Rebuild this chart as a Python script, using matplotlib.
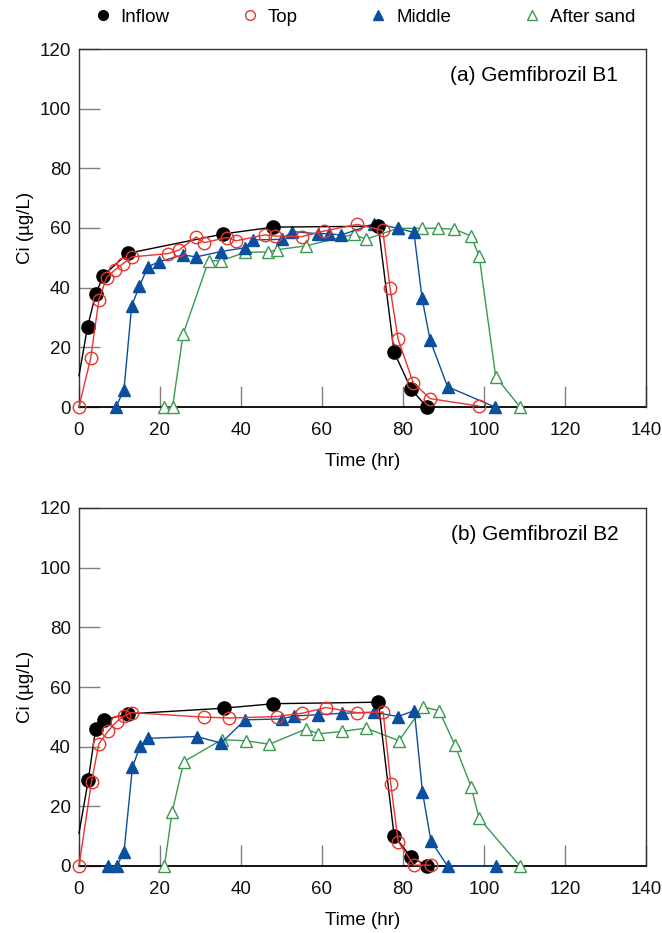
import matplotlib
matplotlib.use("Agg")
import matplotlib.pyplot as plt
from matplotlib.lines import Line2D

plt.rcParams['font.family'] = ['Liberation Sans', 'DejaVu Sans']

# ---- Panel (a) Gemfibrozil B1 ----
a_inflow_t = [0, 2.1, 4.1, 6.0, 12.0, 35.6, 48.0, 73.9, 77.8, 82.0, 85.9]
a_inflow_c = [10.5, 26.8, 37.8, 44.0, 51.5, 58.0, 60.3, 60.6, 18.4, 6.0, 0.0]

a_top_t = [0, 2.9, 4.9, 6.8, 8.9, 10.9, 13.0, 21.9, 24.7, 28.9, 30.9, 36.5, 38.8,
           45.9, 48.4, 55.0, 60.6, 68.7, 75.0, 76.8, 78.8, 82.5, 86.7, 98.8]
a_top_c = [0, 16.5, 35.8, 43.4, 46.0, 48.1, 50.3, 51.4, 52.6, 57.0, 55.1, 56.8, 55.7,
           57.7, 57.3, 57.1, 59.0, 61.2, 59.2, 40.0, 22.7, 8.2, 2.8, 0.3]

a_mid_t = [9.1, 11.1, 13.0, 14.9, 17.0, 19.8, 25.7, 28.9, 35.0, 41.0, 42.9, 50.0,
           52.7, 58.9, 61.8, 64.7, 72.9, 78.8, 82.7, 84.7, 86.7, 91.0, 102.7]
a_mid_c = [0, 5.7, 33.9, 40.4, 47.0, 48.7, 51.0, 50.3, 52.1, 53.4, 56.0, 56.2,
           58.8, 58.1, 58.1, 57.6, 61.5, 59.9, 58.5, 36.5, 22.4, 6.8, 0]

a_sand_t = [21.0, 23.1, 25.7, 32.0, 35.0, 41.0, 46.7, 48.8, 56.0, 67.9, 70.8,
            78.7, 84.8, 88.7, 92.7, 96.7, 98.8, 102.9, 108.9]
a_sand_c = [0, 0, 24.4, 49.0, 49.0, 51.8, 52.0, 52.7, 54.0, 57.9, 56.2,
            59.9, 59.9, 59.9, 59.6, 57.4, 50.7, 10.1, 0]

# ---- Panel (b) Gemfibrozil B2 ----
b_inflow_t = [0, 2.3, 4.1, 6.2, 12.2, 35.8, 48.0, 73.9, 77.8, 82.0, 86.0]
b_inflow_c = [11.0, 28.9, 45.9, 49.0, 51.0, 52.9, 54.4, 54.9, 10.2, 2.9, 0.1]

b_top_t = [0, 3.1, 4.9, 7.1, 9.3, 11.1, 13.0, 30.9, 37.1, 48.8, 55.0, 61.0,
           68.7, 75.1, 77.0, 78.8, 82.7, 86.8]
b_top_c = [0, 28.3, 40.9, 45.1, 48.4, 50.3, 51.4, 49.9, 49.6, 50.1, 51.2, 53.1,
           51.4, 51.6, 27.4, 8.2, 0.3, 0.3]

b_mid_t = [7.2, 9.3, 11.1, 13.2, 15.1, 17.1, 29.1, 35.1, 41.0, 50.0, 53.1, 59.1,
           64.9, 72.9, 78.8, 82.8, 84.8, 86.9, 91.0, 103.0]
b_mid_c = [0, 0, 4.6, 33.1, 40.3, 42.8, 43.4, 41.2, 49.0, 49.3, 50.3, 50.7,
           51.2, 51.5, 50.1, 52.1, 24.9, 8.4, 0, 0]

b_sand_t = [21.1, 23.0, 25.9, 35.2, 41.2, 47.0, 56.0, 59.1, 64.9, 70.9, 79.0,
            84.9, 88.9, 92.8, 96.8, 98.8, 108.9]
b_sand_c = [0, 18.2, 35.0, 42.3, 42.0, 40.8, 45.9, 44.3, 45.1, 46.2, 42.0,
            53.3, 52.1, 40.6, 26.6, 16.0, 0]

series_names = ["Inflow", "Top", "Middle", "After sand"]
panel_titles = ["(a) Gemfibrozil B1", "(b) Gemfibrozil B2"]
x_ticks = [0, 20, 40, 60, 80, 100, 120, 140]
y_ticks = [0, 20, 40, 60, 80, 100, 120]

BLACK = "#000000"
RED = "#e8352e"
BLUE = "#0b4f9e"
GREEN = "#3a9a4e"

fig = plt.figure(figsize=(6.62, 9.33), dpi=100)
ax_a = fig.add_axes([79/662, 1-407/933, 567/662, 358/933])
ax_b = fig.add_axes([79/662, 1-866/933, 567/662, 358/933])

panels = [
    (ax_a, (a_inflow_t, a_inflow_c), (a_top_t, a_top_c), (a_mid_t, a_mid_c), (a_sand_t, a_sand_c)),
    (ax_b, (b_inflow_t, b_inflow_c), (b_top_t, b_top_c), (b_mid_t, b_mid_c), (b_sand_t, b_sand_c)),
]

for i, (ax, inf, top, mid, sand) in enumerate(panels):
    ax.plot(sand[0], sand[1], color=GREEN, lw=1.0, marker='^', ms=9,
            mfc='white', mec=GREEN, mew=1.0, zorder=3, clip_on=False)
    ax.plot(mid[0], mid[1], color=BLUE, lw=1.0, marker='^', ms=9,
            mfc=BLUE, mec=BLUE, zorder=4, clip_on=False)
    ax.plot(inf[0], inf[1], color=BLACK, lw=1.0, marker='o', ms=9.5,
            mfc=BLACK, mec=BLACK, markevery=slice(1, None), zorder=5, clip_on=False)
    ax.plot(top[0], top[1], color=RED, lw=1.0, marker='o', ms=9,
            mfc='none', mec=RED, mew=1.0, zorder=6, clip_on=False)

    ax.set_xlim(0, 140)
    ax.set_ylim(0, 120)
    ax.set_xticks(x_ticks)
    ax.set_yticks(y_ticks)
    ax.tick_params(direction='in', length=15, width=1.0, color='#808080',
                   labelsize=13.5, labelcolor='#111111')
    ax.tick_params(axis='x', pad=11)
    ax.tick_params(axis='y', pad=6)
    for s in ax.spines.values():
        s.set_color('#333333')
        s.set_linewidth(1.0)
    ax.spines['bottom'].set_color('#000000')
    ax.spines['bottom'].set_linewidth(1.3)
    ax.spines['bottom'].set_zorder(2)
    ax.set_xlabel("Time (hr)", fontsize=13.5, labelpad=10)
    ax.set_ylabel("Ci (\u00b5g/L)", fontsize=13.5, labelpad=4)
    ax.text(0.951, 0.927, panel_titles[i], transform=ax.transAxes,
            ha='right', va='center', fontsize=15)

handles = [
    Line2D([], [], ls='none', marker='o', ms=7, mfc=BLACK, mec=BLACK),
    Line2D([], [], ls='none', marker='o', ms=7, mfc='none', mec=RED),
    Line2D([], [], ls='none', marker='^', ms=7, mfc=BLUE, mec=BLUE),
    Line2D([], [], ls='none', marker='^', ms=7, mfc='none', mec=GREEN),
]
fig.legend(handles, series_names, loc='center', bbox_to_anchor=(0.55, 1-17/933),
           ncol=4, frameon=False, fontsize=13.5, handletextpad=0.45,
           columnspacing=3.8, handlelength=1.0)

fig.savefig("out.png", dpi=100)
